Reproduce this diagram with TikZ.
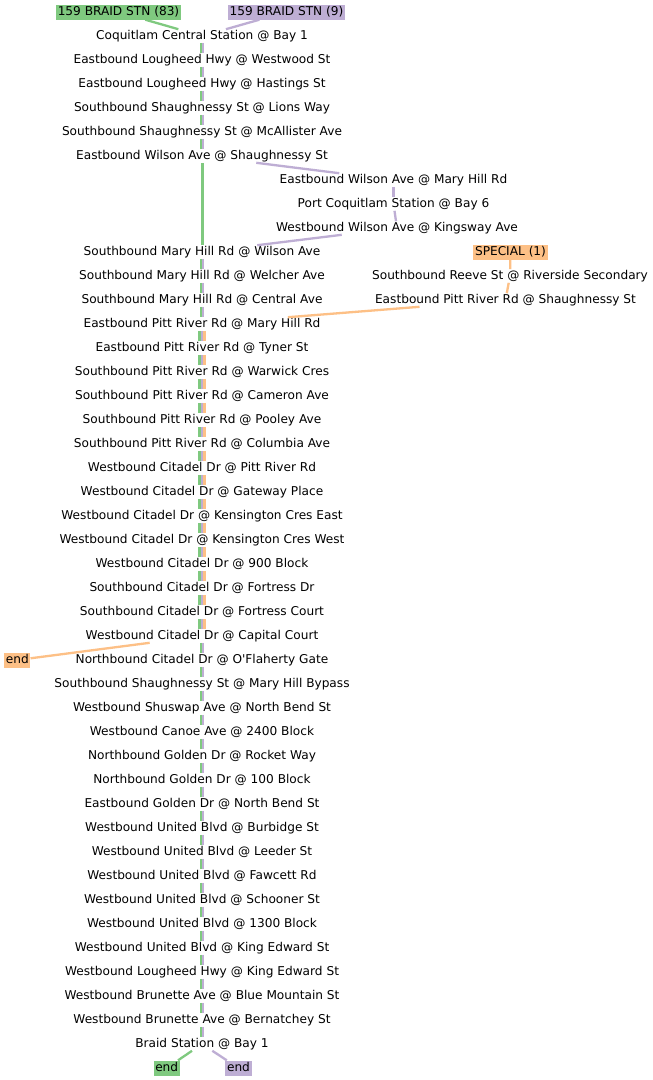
\documentclass[tikz,border=0pt]{standalone}
\usepackage{fontspec}
\setmainfont{DejaVu Sans}
\definecolor{cg}{HTML}{7FC97F}
\definecolor{cp}{HTML}{BEAED4}
\definecolor{co}{HTML}{FDC086}
\newcommand\twol[2]{%
  \draw[gline] ([xshift=-1.1pt]m#1.south) -- ([xshift=-1.1pt]m#2.north);
  \draw[pline] ([xshift=1.3pt]m#1.south) -- ([xshift=1.3pt]m#2.north);}
\newcommand\threel[2]{%
  \draw[gline] ([xshift=-2.4pt]m#1.south) -- ([xshift=-2.4pt]m#2.north);
  \draw[pline] ([xshift=0.1pt]m#1.south) -- ([xshift=0.1pt]m#2.north);
  \draw[oline] ([xshift=2.6pt]m#1.south) -- ([xshift=2.6pt]m#2.north);}
\begin{document}
\begin{tikzpicture}[x=1pt,y=-1pt,
  every node/.style={font=\fontsize{12.15pt}{14pt}\selectfont, text height=9.5pt, text depth=3.5pt},
  lbl/.style={inner xsep=1pt, inner ysep=0.1pt},
  tag/.style={inner xsep=1.6pt, inner ysep=1pt},
  gline/.style={draw=cg, line width=2.3pt},
  pline/.style={draw=cp, line width=2.3pt},
  oline/.style={draw=co, line width=2.3pt}]
\useasboundingbox (0,0) rectangle (653,1080);
\fill[white] (0,0) rectangle (653,1080);
% main column stops
\foreach \i/\t in {0/Coquitlam Central Station @ Bay 1,
  1/Eastbound Lougheed Hwy @ Westwood St,
  2/Eastbound Lougheed Hwy @ Hastings St,
  3/Southbound Shaughnessy St @ Lions Way,
  4/Southbound Shaughnessy St @ McAllister Ave,
  5/Eastbound Wilson Ave @ Shaughnessy St,
  9/Southbound Mary Hill Rd @ Wilson Ave,
  10/Southbound Mary Hill Rd @ Welcher Ave,
  11/Southbound Mary Hill Rd @ Central Ave,
  12/Eastbound Pitt River Rd @ Mary Hill Rd,
  13/Eastbound Pitt River Rd @ Tyner St,
  14/Southbound Pitt River Rd @ Warwick Cres,
  15/Southbound Pitt River Rd @ Cameron Ave,
  16/Southbound Pitt River Rd @ Pooley Ave,
  17/Southbound Pitt River Rd @ Columbia Ave,
  18/Westbound Citadel Dr @ Pitt River Rd,
  19/Westbound Citadel Dr @ Gateway Place,
  20/Westbound Citadel Dr @ Kensington Cres East,
  21/Westbound Citadel Dr @ Kensington Cres West,
  22/Westbound Citadel Dr @ 900 Block,
  23/Southbound Citadel Dr @ Fortress Dr,
  24/Southbound Citadel Dr @ Fortress Court,
  25/Westbound Citadel Dr @ Capital Court,
  26/{Northbound Citadel Dr @ O\textquotesingle{}Flaherty Gate},
  27/Southbound Shaughnessy St @ Mary Hill Bypass,
  28/Westbound Shuswap Ave @ North Bend St,
  29/Westbound Canoe Ave @ 2400 Block,
  30/Northbound Golden Dr @ Rocket Way,
  31/Northbound Golden Dr @ 100 Block,
  32/Eastbound Golden Dr @ North Bend St,
  33/Westbound United Blvd @ Burbidge St,
  34/Westbound United Blvd @ Leeder St,
  35/Westbound United Blvd @ Fawcett Rd,
  36/Westbound United Blvd @ Schooner St,
  37/Westbound United Blvd @ 1300 Block,
  38/Westbound United Blvd @ King Edward St,
  39/Westbound Lougheed Hwy @ King Edward St,
  40/Westbound Brunette Ave @ Blue Mountain St,
  41/Westbound Brunette Ave @ Bernatchey St,
  42/Braid Station @ Bay 1}
  {\node[lbl] (m\i) at (202, 36+24*\i) {\t};}
% side branches
\node[lbl] (ra) at (393.5, 180) {Eastbound Wilson Ave @ Mary Hill Rd};
\node[lbl] (rb) at (393.5, 204) {Port Coquitlam Station @ Bay 6};
\node[lbl] (rc) at (397, 228) {Westbound Wilson Ave @ Kingsway Ave};
\node[lbl] (rr) at (510, 276) {Southbound Reeve St @ Riverside Secondary};
\node[lbl] (rs) at (505.5, 300) {Eastbound Pitt River Rd @ Shaughnessy St};
% route tags
\node[tag, fill=cg] (hg) at (118.5, 12) {159 BRAID STN (83)};
\node[tag, fill=cp] (hp) at (286.5, 12) {159 BRAID STN (9)};
\node[tag, fill=co] (hs) at (510.5, 252) {SPECIAL (1)};
\node[tag, fill=co] (eo) at (17.3, 660) {end};
\node[tag, fill=cg] (eg) at (166.7, 1068) {end};
\node[tag, fill=cp] (ep) at (238.5, 1068) {end};
% connectors
\draw[gline] (hg) -- (m0);
\draw[pline] (hp) -- (m0);
\foreach \i in {0,...,4} {\pgfmathtruncatemacro\j{\i+1}\twol{\i}{\j}}
\draw[gline] ([xshift=0.4pt]m5.south) -- ([xshift=0.4pt]m9.north);
\draw[pline] (m5) -- (ra);
\draw[pline] (ra) -- (rb);
\draw[pline] (rb) -- (rc);
\draw[pline] (rc) -- (m9);
\foreach \i in {9,10,11} {\pgfmathtruncatemacro\j{\i+1}\twol{\i}{\j}}
\draw[oline] (hs) -- (rr);
\draw[oline] (rr) -- (rs);
\draw[oline] (rs) -- (m12);
\foreach \i in {12,...,24} {\pgfmathtruncatemacro\j{\i+1}\threel{\i}{\j}}
\draw[oline] (m25) -- (eo);
\foreach \i in {25,...,41} {\pgfmathtruncatemacro\j{\i+1}\twol{\i}{\j}}
\draw[gline] (m42) -- (eg);
\draw[pline] (m42) -- (ep);
\end{tikzpicture}
\end{document}
